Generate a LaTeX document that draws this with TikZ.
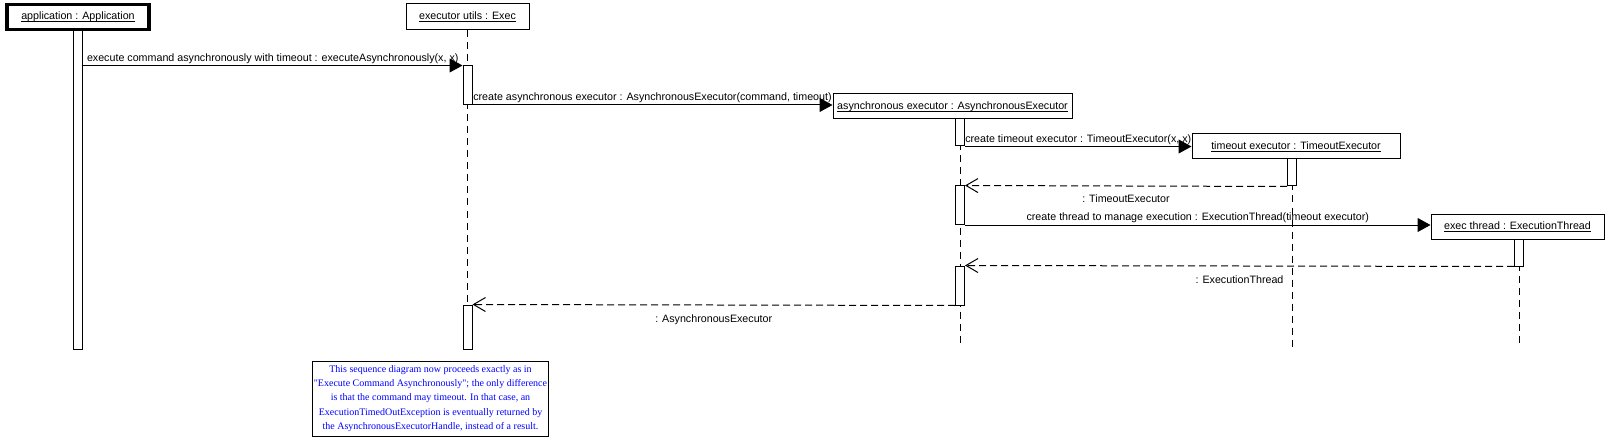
\documentclass[tikz,border=0pt]{standalone}
\usepackage{fontspec}
\setmainfont{Liberation Sans}
\newfontfamily\notefont{Liberation Serif}
\usetikzlibrary{arrows.meta}
\newcommand{\objname}[1]{\underline{\raisebox{0pt}[\height][0pt]{#1}}}

\begin{document}
\begin{tikzpicture}[x=1pt, y=-1pt,
  every node/.style={font=\fontsize{10.7}{13}\selectfont},
  objbox/.style={draw, line width=1pt, rectangle, minimum height=25pt, inner sep=0pt},
  actbar/.style={draw, line width=1pt, fill=white, minimum width=9pt, inner sep=0pt},
  lifeline/.style={line width=1pt, dash pattern=on 7pt off 5pt},
  callarrow/.style={line width=1pt, -{Triangle[length=13pt,width=14pt]}},
  replyarrow/.style={line width=1pt, dash pattern=on 7pt off 4pt, -{Straight Barb[length=12pt,width=14pt]}},
  msglabel/.style={midway, above, inner sep=1.5pt, text height=7.5pt, text depth=2pt},
  retlabel/.style={midway, below, inner sep=2pt, yshift=-7pt, text height=7.5pt, text depth=2pt}]
\useasboundingbox (0,0) rectangle (1610,441);

\node[objbox, line width=3.5pt, minimum width=142pt] (app) at (78,17) {\objname{application : Application}};
\node[objbox, minimum width=123pt, minimum height=26pt] (exec) at (467.5,17) {\objname{executor utils : Exec}};
\node[objbox, minimum width=239pt] (async) at (952.5,106.5) {\objname{asynchronous executor : AsynchronousExecutor}};
\node[objbox, minimum width=208pt] (timeout) at (1296,146.5) {\objname{timeout executor : TimeoutExecutor}};
\node[objbox, minimum width=173pt] (thread) at (1517.5,226.5) {\objname{exec thread : ExecutionThread}};

\coordinate (bottom) at (0,347);
\draw[lifeline] (exec.south) -- (exec.south |- 0,349);
\draw[lifeline] (async.south -| 960,0) -- (960,0 |- bottom);
\draw[lifeline] (timeout.south -| 1292,0) -- (1292,0 |- bottom);
\draw[lifeline] (thread.south -| 1519,0) -- (1519,0 |- 0,345);

\node[actbar, minimum height=318pt] (appbar) at (78,190) {};
\node[actbar, minimum height=38.5pt] (execbar1) at (467.5,85.25) {};
\node[actbar, minimum height=44pt] (execbar2) at (467.5,327) {};
\node[actbar, minimum height=27pt] (asyncbar1) at (960,132.5) {};
\node[actbar, minimum height=38.5pt] (asyncbar2) at (960,205.25) {};
\node[actbar, minimum height=39pt] (asyncbar3) at (960,285.5) {};
\node[actbar, minimum height=27pt] (timeoutbar) at (1292,172.5) {};
\node[actbar, minimum height=27pt] (threadbar) at (1519,252.5) {};

\draw[callarrow] (appbar.east |- execbar1.north west) -- (execbar1.north west)
  node[msglabel] {execute command asynchronously with timeout : executeAsynchronously(x, x)};
\draw[callarrow] (execbar1.south east) -- (execbar1.south east -| async.west)
  node[msglabel] {create asynchronous executor : AsynchronousExecutor(command, timeout)};
\draw[callarrow] (asyncbar1.south east) -- (asyncbar1.south east -| timeout.west)
  node[msglabel] {create timeout executor : TimeoutExecutor(x, x)};
\draw[replyarrow] (timeoutbar.south west) -- (asyncbar2.north east)
  node[retlabel] {: TimeoutExecutor};
\draw[callarrow] (asyncbar2.south east) -- (asyncbar2.south east -| thread.west)
  node[msglabel] {create thread to manage execution : ExecutionThread(timeout executor)};
\draw[replyarrow] (threadbar.south west) -- (asyncbar3.north east)
  node[retlabel] {: ExecutionThread};
\draw[replyarrow] (asyncbar3.south west) -- (execbar2.north east)
  node[retlabel] {: AsynchronousExecutor};

\node[draw, line width=1pt, minimum width=235pt, minimum height=75pt, inner sep=1pt, align=center, text=blue,
  font=\notefont\fontsize{10}{14.3}\selectfont] (note) at (430.5,398.5)
  {This sequence diagram now proceeds exactly as in\\
   \textquotedbl Execute Command Asynchronously\textquotedbl; the only difference\\
   is that the command may timeout. In that case, an\\
   ExecutionTimedOutException is eventually returned by\\
   the AsynchronousExecutorHandle, instead of a result.};
\end{tikzpicture}
\end{document}
